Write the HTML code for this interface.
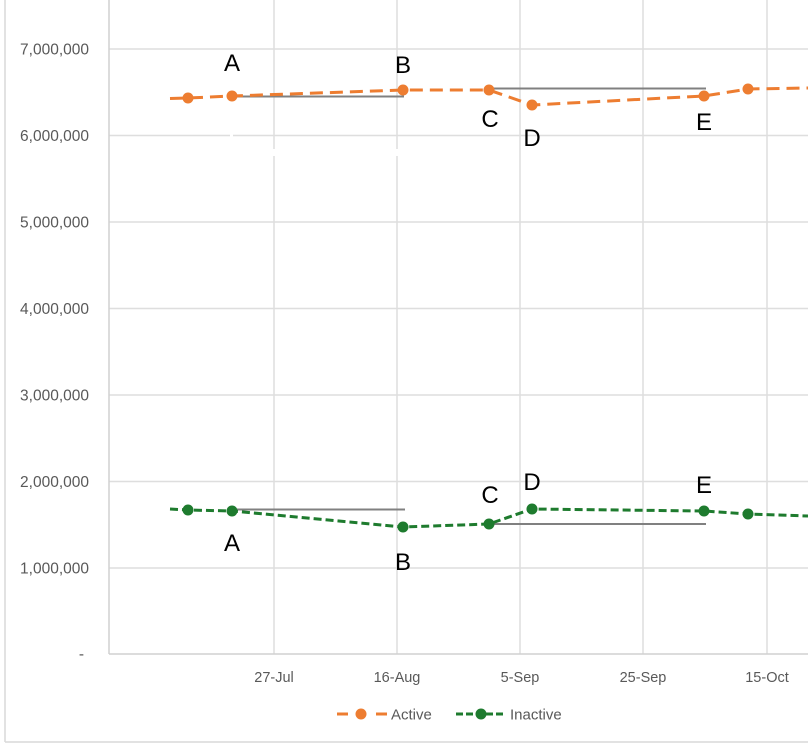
<!DOCTYPE html>
<html>
<head>
<meta charset="utf-8">
<style>
html,body{margin:0;padding:0;background:#fff;}
svg{display:block;}
</style>
</head>
<body>
<svg width="808" height="748" viewBox="0 0 808 748" xmlns="http://www.w3.org/2000/svg">
<rect width="808" height="748" fill="#fff"/>
<!-- outer border -->
<line x1="5" y1="0" x2="5" y2="742" stroke="#d9d9d9" stroke-width="1.5"/>
<line x1="5" y1="742" x2="808" y2="742" stroke="#d9d9d9" stroke-width="1.5"/>

<!-- horizontal gridlines -->
<g stroke="#dedede" stroke-width="1.5">
<line x1="109" y1="49" x2="808" y2="49"/>
<line x1="109" y1="135.5" x2="808" y2="135.5"/>
<line x1="109" y1="222" x2="808" y2="222"/>
<line x1="109" y1="308.5" x2="808" y2="308.5"/>
<line x1="109" y1="395" x2="808" y2="395"/>
<line x1="109" y1="481.5" x2="808" y2="481.5"/>
<line x1="109" y1="568" x2="808" y2="568"/>
</g>
<!-- vertical gridlines -->
<g stroke="#dedede" stroke-width="1.5">
<line x1="274" y1="0" x2="274" y2="654"/>
<line x1="397" y1="0" x2="397" y2="654"/>
<line x1="520" y1="0" x2="520" y2="654"/>
<line x1="643" y1="0" x2="643" y2="654"/>
<line x1="767" y1="0" x2="767" y2="654"/>
</g>
<!-- small gaps -->
<rect x="270" y="149" width="8" height="7" fill="#fff"/>
<rect x="393" y="149" width="8" height="7" fill="#fff"/>
<rect x="230" y="133" width="3" height="5" fill="#fff"/>

<!-- axes -->
<line x1="109" y1="0" x2="109" y2="654" stroke="#d0d0d0" stroke-width="1.5"/>
<line x1="109" y1="654" x2="808" y2="654" stroke="#d0d0d0" stroke-width="1.5"/>

<!-- y labels -->
<g font-family="Liberation Sans, Arial, sans-serif" font-size="15.5" fill="#595959" text-anchor="end">
<text x="89" y="54.5">7,000,000</text>
<text x="89" y="141">6,000,000</text>
<text x="89" y="227.5">5,000,000</text>
<text x="89" y="314">4,000,000</text>
<text x="89" y="400.5">3,000,000</text>
<text x="89" y="487">2,000,000</text>
<text x="89" y="573.5">1,000,000</text>
<text x="84" y="659">-</text>
</g>

<!-- x labels -->
<g font-family="Liberation Sans, Arial, sans-serif" font-size="14.5" fill="#595959" text-anchor="middle">
<text x="274" y="682">27-Jul</text>
<text x="397" y="682">16-Aug</text>
<text x="520" y="682">5-Sep</text>
<text x="643" y="682">25-Sep</text>
<text x="767" y="682">15-Oct</text>
</g>

<!-- reference gray lines -->
<g stroke="#808080" stroke-width="2">
<line x1="232" y1="96.5" x2="404" y2="96.5"/>
<line x1="490" y1="88.5" x2="706" y2="88.5"/>
<line x1="232" y1="509.5" x2="405" y2="509.5"/>
<line x1="490" y1="524" x2="706" y2="524"/>
</g>

<!-- Active series -->
<polyline points="170,98.5 188,98 232,96 403,90 489,90 532,105 704,96 748,89 808,88" fill="none" stroke="#ED7D31" stroke-width="3" stroke-dasharray="13,7"/>
<g fill="#ED7D31">
<circle cx="188" cy="98" r="5.5"/>
<circle cx="232" cy="96" r="5.5"/>
<circle cx="403" cy="90" r="5.5"/>
<circle cx="489" cy="90" r="5.5"/>
<circle cx="532" cy="105" r="5.5"/>
<circle cx="704" cy="96" r="5.5"/>
<circle cx="748" cy="89" r="5.5"/>
</g>

<!-- Inactive series -->
<polyline points="170,509 188,510 232,511 403,527 489,524 532,509 704,511 748,514 808,516" fill="none" stroke="#1E7B2E" stroke-width="3" stroke-dasharray="8,4"/>
<g fill="#1E7B2E">
<circle cx="188" cy="510" r="5.5"/>
<circle cx="232" cy="511" r="5.5"/>
<circle cx="403" cy="527" r="5.5"/>
<circle cx="489" cy="524" r="5.5"/>
<circle cx="532" cy="509" r="5.5"/>
<circle cx="704" cy="511" r="5.5"/>
<circle cx="748" cy="514" r="5.5"/>
</g>

<!-- point labels -->
<g font-family="Liberation Sans, Arial, sans-serif" font-size="24" fill="#000" text-anchor="middle">
<text x="232" y="71">A</text>
<text x="403" y="73">B</text>
<text x="490" y="127">C</text>
<text x="532" y="146">D</text>
<text x="704" y="130">E</text>

<text x="232" y="551">A</text>
<text x="403" y="570">B</text>
<text x="490" y="503">C</text>
<text x="532" y="490">D</text>
<text x="704" y="493">E</text>
</g>

<!-- legend -->
<g stroke="#ED7D31" stroke-width="3">
<line x1="337" y1="714" x2="348" y2="714"/>
<line x1="376" y1="714" x2="387" y2="714"/>
</g>
<circle cx="361" cy="714" r="5.5" fill="#ED7D31"/>
<text x="391" y="719.5" font-family="Liberation Sans, Arial, sans-serif" font-size="15" fill="#595959">Active</text>
<line x1="456" y1="714" x2="506" y2="714" stroke="#1E7B2E" stroke-width="3" stroke-dasharray="7,3"/>
<circle cx="481" cy="714" r="5.5" fill="#1E7B2E"/>
<text x="510" y="719.5" font-family="Liberation Sans, Arial, sans-serif" font-size="15" fill="#595959">Inactive</text>
</svg>
</body>
</html>
